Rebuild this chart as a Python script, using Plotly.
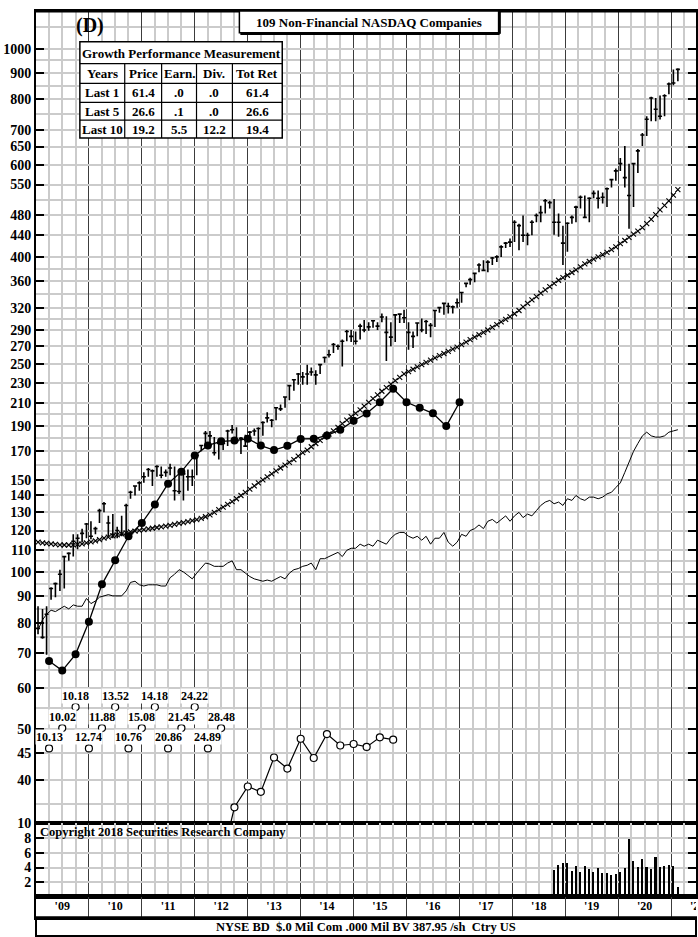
import math
import pandas as pd
import plotly.graph_objects as go

W, H = 698, 937
L = 36
FONT = "Liberation Serif"

# monthly price ranges, Jan 2009 .. Feb 2021
months = pd.date_range("2009-01-01", periods=146, freq="MS") + pd.Timedelta(days=14)

price_high = [
    86, 85, 86, 93.5, 95.5, 101, 107, 109, 118, 118, 121, 124,
    125, 122, 132, 136, 128, 129, 122, 128, 135, 143, 146, 149,
    155, 158, 157, 160, 159, 157, 161, 159, 156, 156, 157, 157,
    168, 175, 186, 186, 181, 177, 178, 187, 191, 189, 181, 183,
    186, 188, 189, 194, 202, 196, 206, 209, 216, 228, 233, 240,
    241, 249, 246, 243, 250, 258, 266, 274, 272, 278, 290, 290,
    288, 298, 303, 300, 303, 300, 312, 308, 300, 311, 312, 317,
    300, 288, 300, 305, 303, 299, 317, 321, 327, 327, 323, 333,
    342, 356, 365, 373, 389, 394, 394, 400, 403, 421, 427, 434,
    470, 463, 480, 445, 470, 484, 501, 516, 512, 516, 484, 459,
    466, 480, 501, 524, 524, 520, 536, 536, 531, 543, 564, 590,
    618, 652, 603, 605, 643, 690, 743, 809, 805, 814, 818, 862,
    913, 918,
]
price_low = [
    76, 74.5, 69.5, 88.5, 89.5, 92, 93, 105, 107, 110.5, 114, 116,
    115.5, 118, 124, 130, 117, 116, 116, 117, 118, 138, 140, 143,
    148, 152, 146, 152, 151, 152, 153, 137, 141, 137, 143, 146,
    153, 170, 174, 174, 167, 164, 171, 174, 184, 178, 168, 174,
    178, 182, 176, 182, 193, 189, 195, 203, 206, 213, 222, 228,
    228, 228, 237, 228, 239, 251, 257, 262, 266, 247, 276, 275,
    272, 278, 287, 289, 293, 290, 300, 253, 270, 275, 299, 299,
    266, 268, 282, 287, 285, 281, 294, 313, 310, 312, 312, 320,
    327, 350, 354, 358, 374, 377, 374, 386, 391, 400, 416, 418,
    427, 412, 427, 421, 440, 466, 466, 484, 495, 441, 437, 386,
    409, 463, 466, 495, 476, 466, 518, 495, 506, 498, 543, 559,
    584, 543, 453, 498, 579, 652, 681, 727, 727, 732, 743, 818,
    851, 867,
]
price_close = [
    78, 75, 83, 93, 95, 99, 107, 108.5, 114.5, 116, 118.5, 123.5,
    117, 121, 131, 135, 124, 118, 120, 118, 134, 142, 146, 148,
    152, 157, 156, 159, 153, 155, 158, 143, 142.5, 154, 152, 152,
    167, 174.5, 184, 182, 169, 176, 176, 186, 187, 178, 180, 174,
    185, 186, 188, 193, 197, 195, 206, 205, 216, 227, 233, 239,
    236, 239, 241, 238, 249, 257, 260, 272, 270, 276, 288, 282,
    276, 295, 290, 294, 302, 295, 307, 287, 281, 310, 311, 306,
    287, 282, 299, 290, 301, 296, 316, 320, 326, 322, 321, 327,
    342, 356, 362, 372, 386, 377, 391, 398, 400, 418, 425, 427,
    466, 459, 440, 440, 466, 480, 486, 512, 508, 466, 466, 425,
    464, 476, 498, 520, 476, 518, 529, 518, 520, 540, 562, 584,
    603, 567, 524, 603, 638, 684, 733, 805, 766, 743, 813, 856,
    860, 913,
]
ma_line = [
    114.0, 113.7, 113.4, 113.1, 112.9, 112.7, 112.6, 112.6, 112.7, 112.9, 113.2, 113.6,
    114.1, 114.7, 115.3, 116.0, 116.6, 117.2, 117.7, 118.3, 118.8, 119.3, 119.7, 120.1,
    120.5, 120.9, 121.2, 121.6, 122.0, 122.4, 122.8, 123.3, 123.8, 124.3, 124.8, 125.3,
    125.9, 126.6, 127.5, 128.6, 130.0, 131.5, 133.0, 134.6, 136.3, 138.0, 140.0, 142.0,
    144.0, 146.0, 148.0, 150.0, 152.0, 154.0, 156.0, 158.0, 160.0, 162.0, 164.0, 166.5,
    169.0, 171.0, 173.5, 176.0, 178.5, 181.0, 183.5, 186.0, 189.0, 192.0, 195.0, 198.0,
    201.0, 204.0, 207.5, 211.0, 214.5, 218.0, 221.5, 225.0, 228.5, 232.0, 235.5, 239.0,
    241.5, 244.0, 246.5, 249.0, 251.5, 254.0, 256.5, 259.0, 261.5, 264.0, 266.5, 269.0,
    272.0, 275.0, 278.0, 281.0, 284.0, 287.0, 290.0, 293.5, 297.0, 300.5, 304.0, 307.5,
    311.5, 316.0, 321.0, 326.0, 331.0, 336.0, 341.0, 346.0, 351.0, 356.0, 361.0, 365.0,
    369.0, 373.5, 378.0, 383.0, 388.0, 392.0, 396.0, 400.0, 404.0, 408.0, 413.0, 418.0,
    424.0, 430.0, 436.0, 442.0, 448.0, 455.0, 463.0, 472.0, 482.0, 492.0, 502.0, 512.0,
    525.0, 538.0,
]
rel_strength = [
    77.5, 81, 83, 84.5, 84, 85, 86, 85, 86.5, 86, 86, 89,
    87, 88, 89.5, 90, 90.5, 90, 90, 90, 92, 95.5, 96, 94.5,
    94, 94.5, 94.5, 94.5, 94, 94, 97.5, 99, 101, 100, 98.5, 97,
    99.5, 102, 104, 103.5, 102.5, 102.5, 102.5, 104, 105, 101, 101, 99.5,
    98, 97, 96.5, 96, 96.5, 96, 97, 98, 97, 99.5, 101, 101.5,
    102.5, 103, 104, 101, 106, 106, 107, 108, 109, 107, 110, 111,
    111, 113, 112, 113, 112, 115, 114, 113, 116, 118, 119, 119,
    117, 116, 117, 115, 117, 113, 116, 116, 119, 114, 112, 114,
    118, 117, 120, 121, 123, 121, 125, 126, 124, 126, 128, 125,
    128, 130, 127, 129, 128, 131, 134, 136, 137, 135, 136, 134,
    138, 137, 140, 138, 137, 139, 139, 138, 139, 141, 142, 145,
    148, 155, 162, 170, 176, 182, 185, 182, 181, 181, 182, 185,
    186, 187,
]

# quarterly trend (filled dots)
quarters = pd.date_range("2009-04-01", periods=32, freq="3MS")
trend_dots = [
    67.6, 64.8, 69.6, 80.3, 94.7, 105.3, 117, 124, 134.5, 147.5, 155.5, 167,
    174.5, 177.7, 178.3, 179.7, 174.4, 171, 174.2, 179.6, 179.7, 182.3, 186.9, 194.5,
    200.8, 211, 224, 211, 206, 201, 190, 211,
]

# quarterly lower series (open dots)
earn_q = pd.date_range("2012-07-01", periods=14, freq="3MS")
earn_vals = [27.8, 35.5, 38.9, 38.0, 44.2, 42.1, 48.0, 44.1, 49.0, 46.6, 46.9, 46.3, 48.3, 47.8]

# labelled markers
label_q = pd.date_range("2009-04-01", periods=14, freq="3MS")
label_text = ["10.13", "10.02", "10.18", "12.74", "11.88", "13.52", "10.76",
              "15.08", "14.18", "20.86", "21.45", "24.22", "24.89", "28.48"]
label_level = [46, 50.3, 55.2, 46, 50.3, 55.2, 46, 50.3, 55.2, 46, 50.3, 55.2, 46, 50.3]

# volume
vol_months = months[117:]
vol_vals = [3.7, 4.3, 4.6, 4.6, 3.5, 4.2, 3.4, 4.2, 3.8, 3.4, 3.9, 3.3, 3.25, 3.0, 3.15,
            3.4, 3.9, 7.9, 4.95, 4.1, 5.1, 4.1, 3.8, 5.5, 4.1, 4.2, 4.3, 4.2, 1.45]

year_mid = pd.date_range("2009-07-01", periods=13, freq="12MS")
year_labels = ["'09", "'10", "'11", "'12", "'13", "'14", "'15", "'16", "'17", "'18", "'19", "'20", "'21"]

price_ticks = [1000, 900, 800, 700, 650, 600, 550, 480, 440, 400, 360, 320, 290, 270,
               250, 230, 210, 190, 170, 150, 140, 130, 120, 110, 100, 90, 80, 70, 60, 50, 45, 40]
price_grid = [1100, 950, 850, 750, 515, 380, 340, 305, 200, 180, 160, 105, 95, 85, 75, 65, 55, 36]
vol_ticks = [2, 4, 6, 8, 10]

perf_title = "Growth Performance Measurement"
perf_cols = ["Years", "Price", "Earn.", "Div.", "Tot Ret"]
perf_rows = [
    ["Last 1", "61.4", ".0", ".0", "61.4"],
    ["Last 5", "26.6", ".1", ".0", "26.6"],
    ["Last 10", "19.2", "5.5", "12.2", "19.4"],
]
chart_title = "109 Non-Financial NASDAQ Companies"
copyright_text = "Copyright 2018 Securities Research Company"
footer_text = "NYSE BD  $.0 Mil Com .000 Mil BV 387.95 /sh  Ctry US"


def px(x):
    return (x - L) / (W - L)


def py(y):
    return 1 - y / H


def bold(size):
    return dict(family=FONT, size=size, color="black", weight="bold")


def note(text, x, y, size, xanchor="center"):
    return dict(text=text, xref="paper", yref="paper", x=px(x), y=py(y),
                xanchor=xanchor, yanchor="middle", showarrow=False, font=bold(size))


fig = go.Figure()

fig.add_trace(go.Scatter(x=months, y=rel_strength, mode="lines",
                         line=dict(color="black", width=1)))
fig.add_trace(go.Scatter(x=months, y=ma_line, mode="lines+markers",
                         line=dict(color="black", width=0.5),
                         marker=dict(symbol="x-thin", size=5, color="black",
                                     line=dict(width=1.1, color="black"))))
fig.add_trace(go.Ohlc(x=months, open=price_close, high=price_high, low=price_low,
                      close=price_close, tickwidth=0.5,
                      increasing_line=dict(color="black", width=1.6),
                      decreasing_line=dict(color="black", width=1.6)))
fig.add_trace(go.Scatter(x=quarters, y=trend_dots, mode="lines+markers",
                         line=dict(color="black", width=1.3),
                         marker=dict(size=8, color="black")))
fig.add_trace(go.Scatter(x=earn_q, y=earn_vals, mode="lines+markers",
                         line=dict(color="black", width=1.2),
                         marker=dict(size=7, color="white", line=dict(color="black", width=1.2))))
fig.add_trace(go.Scatter(x=label_q, y=label_level, mode="markers",
                         marker=dict(size=7, color="white", line=dict(color="black", width=1.2))))

fig.add_trace(go.Bar(x=vol_months, y=vol_vals, width=11 * 86400000,
                     marker=dict(color="black", line=dict(width=0)),
                     xaxis="x2", yaxis="y2"))

fig.add_trace(go.Scatter(x=year_mid, y=[0.5] * len(year_mid), mode="text",
                         text=year_labels, textfont=bold(12),
                         xaxis="x3", yaxis="y3"))

xgrid = dict(type="date", range=["2009-01-01", "2021-06-20"],
             showticklabels=False, ticks="", tick0="2009-01-01", dtick="M12",
             showgrid=True, gridcolor="#3c3c3c", gridwidth=1.2, zeroline=False,
             showline=True, linecolor="black", linewidth=1.5, mirror=True)
ygray = "#cbcbcb"
qgrid = dict(dtick="M3", tick0="2009-01-01", showgrid=True, gridcolor=ygray, gridwidth=1.5)

fig.update_layout(
    width=W, height=H, showlegend=False,
    margin=dict(l=L, r=0, t=0, b=0),
    paper_bgcolor="white", plot_bgcolor="white",
    bargap=0,
    xaxis=dict(**xgrid, anchor="y", rangeslider=dict(visible=False), minor=qgrid),
    xaxis2=dict(**xgrid, anchor="y2", matches="x", minor=qgrid),
    xaxis3=dict(**{**xgrid, "linewidth": 2.5}, anchor="y3", matches="x"),
    yaxis=dict(domain=[py(822), py(4)], type="log", range=[1.5205, 3.0721],
               tickmode="array", tickvals=price_ticks, ticktext=[str(v) for v in price_ticks],
               ticks="inside", ticklen=8, tickwidth=1.5, tickcolor="black",
               tickfont=bold(14), showline=True, linecolor="black", linewidth=2,
               mirror="ticks", showgrid=True, gridcolor=ygray, gridwidth=1.5,
               zeroline=False,
               minor=dict(tickmode="array", tickvals=price_grid, ticks="", showgrid=True,
                          gridcolor=ygray, gridwidth=1.5)),
    yaxis2=dict(domain=[py(897), py(822)], range=[0, 10], tickmode="array",
                tickvals=vol_ticks, ticktext=[str(v) for v in vol_ticks],
                ticks="inside", ticklen=8, tickwidth=1.5, tickcolor="black",
                tickfont=bold(14), showline=True, linecolor="black", linewidth=2,
                mirror="ticks", showgrid=True, gridcolor=ygray, gridwidth=1.5,
                zeroline=False),
    yaxis3=dict(domain=[py(917), py(897)], range=[0, 1], showticklabels=False,
                showgrid=False, zeroline=False, showline=True, linecolor="black",
                linewidth=2),
)

shapes = []
ann = []

# top border
shapes.append(dict(type="line", xref="paper", yref="paper", x0=0, x1=1,
                   y0=py(4), y1=py(4), line=dict(color="black", width=3)))

# footer box
shapes.append(dict(type="rect", xref="paper", yref="paper", x0=0, x1=1,
                   y0=py(936), y1=py(917), line=dict(color="black", width=2)))
ann.append(note(footer_text, 367, 927, 12.5))

# title box with shadow
shapes.append(dict(type="rect", xref="paper", yref="paper", x0=px(240), x1=px(500),
                   y0=py(26), y1=py(4), fillcolor="white",
                   line=dict(color="black", width=1.5)))
shapes.append(dict(type="line", xref="paper", yref="paper", x0=px(241), x1=px(501),
                   y0=py(27), y1=py(27), line=dict(color="black", width=2.5)))
shapes.append(dict(type="line", xref="paper", yref="paper", x0=px(501), x1=px(501),
                   y0=py(27), y1=py(4), line=dict(color="black", width=2.5)))
ann.append(note(chart_title, 370, 16, 13))
ann.append(note("(D)", 90, 19, 20))

# performance table
col_edges = [80, 125, 162, 197, 233, 283]
row_edges = [35, 57, 77, 96, 114, 132]
tx0, tx1 = col_edges[0], col_edges[-1]
shapes.append(dict(type="rect", xref="paper", yref="paper", x0=px(tx0), x1=px(tx1),
                   y0=py(row_edges[-1]), y1=py(row_edges[0]), fillcolor="white",
                   line=dict(color="black", width=1.5)))
for r in row_edges[1:-1]:
    shapes.append(dict(type="line", xref="paper", yref="paper", x0=px(tx0), x1=px(tx1),
                       y0=py(r), y1=py(r), line=dict(color="black", width=1.2)))
for c in col_edges[1:-1]:
    shapes.append(dict(type="line", xref="paper", yref="paper", x0=px(c), x1=px(c),
                       y0=py(row_edges[-1]), y1=py(row_edges[1]),
                       line=dict(color="black", width=1.2)))
ann.append(note(perf_title, (tx0 + tx1) / 2, 46.5, 13))
for ri, row in enumerate([perf_cols] + perf_rows):
    yc = (row_edges[ri + 1] + row_edges[ri + 2]) / 2
    for ci, cell in enumerate(row):
        xc = (col_edges[ci] + col_edges[ci + 1]) / 2
        ann.append(note(cell, xc, yc, 13))

# copyright
ann.append(note(copyright_text, 38, 831, 12.5, xanchor="left"))

# labels above the open markers
for d, lvl, t in zip(label_q, label_level, label_text):
    ann.append(dict(text=t, x=d, y=math.log10(lvl), xref="x", yref="y",
                    xanchor="center", yanchor="middle", yshift=11, showarrow=False,
                    font=bold(12), bgcolor="white", borderpad=0))

fig.update_layout(shapes=shapes, annotations=ann)

fig.write_html("out.html", config={"displayModeBar": False},
               post_script="document.body.style.margin='0';document.body.style.overflow='hidden';")
